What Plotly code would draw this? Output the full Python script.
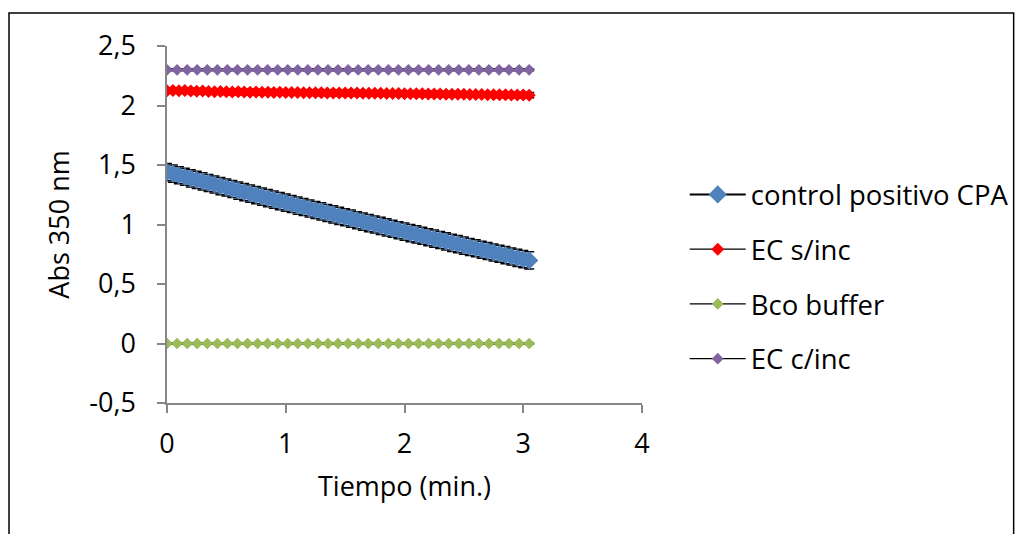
import plotly.graph_objects as go

# ---- data ----
time_fast = [0.00, 0.05, 0.10, 0.15, 0.20, 0.25, 0.30, 0.35, 0.40, 0.45,
             0.50, 0.55, 0.60, 0.65, 0.70, 0.75, 0.80, 0.85, 0.90, 0.95,
             1.00, 1.05, 1.10, 1.15, 1.20, 1.25, 1.30, 1.35, 1.40, 1.45,
             1.50, 1.55, 1.60, 1.65, 1.70, 1.75, 1.80, 1.85, 1.90, 1.95,
             2.00, 2.05, 2.10, 2.15, 2.20, 2.25, 2.30, 2.35, 2.40, 2.45,
             2.50, 2.55, 2.60, 2.65, 2.70, 2.75, 2.80, 2.85, 2.90, 2.95,
             3.00, 3.05]

cpa = [1.440, 1.427, 1.414, 1.401, 1.388, 1.375, 1.362, 1.349, 1.336, 1.323,
       1.311, 1.298, 1.285, 1.272, 1.260, 1.247, 1.234, 1.222, 1.209, 1.197,
       1.184, 1.172, 1.159, 1.147, 1.134, 1.122, 1.110, 1.097, 1.085, 1.073,
       1.061, 1.049, 1.036, 1.024, 1.012, 1.000, 0.988, 0.976, 0.964, 0.952,
       0.940, 0.928, 0.917, 0.905, 0.893, 0.881, 0.870, 0.858, 0.846, 0.835,
       0.823, 0.811, 0.800, 0.788, 0.777, 0.765, 0.754, 0.743, 0.731, 0.720,
       0.709, 0.698]
cpa_err = [0.072] * 62

ec_sinc = [2.125, 2.127, 2.124, 2.126, 2.122, 2.120, 2.121, 2.118, 2.116, 2.117,
           2.115, 2.114, 2.115, 2.113, 2.112, 2.113, 2.111, 2.112, 2.110, 2.111,
           2.110, 2.109, 2.110, 2.108, 2.108, 2.107, 2.107, 2.106, 2.106, 2.105,
           2.105, 2.104, 2.104, 2.103, 2.103, 2.102, 2.102, 2.101, 2.100, 2.100,
           2.099, 2.099, 2.098, 2.098, 2.097, 2.097, 2.096, 2.095, 2.095, 2.094,
           2.094, 2.093, 2.093, 2.092, 2.091, 2.091, 2.090, 2.090, 2.089, 2.088,
           2.088, 2.087]
ec_sinc_err = [0.022] * 62

time_slow = [0.000, 0.085, 0.170, 0.254, 0.339, 0.424, 0.508, 0.593, 0.678, 0.763,
             0.847, 0.932, 1.017, 1.101, 1.186, 1.271, 1.356, 1.440, 1.525, 1.610,
             1.694, 1.779, 1.864, 1.949, 2.033, 2.118, 2.203, 2.287, 2.372, 2.457,
             2.542, 2.626, 2.711, 2.796, 2.880, 2.965, 3.050]

bco_buffer = [0.000, 0.000, 0.000, 0.000, 0.000, 0.000, 0.000, 0.000, 0.000, 0.000,
              0.000, 0.000, 0.000, 0.000, 0.000, 0.000, 0.000, 0.000, 0.000, 0.000,
              0.000, 0.000, 0.000, 0.000, 0.000, 0.000, 0.000, 0.000, 0.000, 0.000,
              0.000, 0.000, 0.000, 0.000, 0.000, 0.000, 0.000]
bco_err = [0.006] * 37

ec_cinc = [2.300, 2.300, 2.300, 2.300, 2.300, 2.300, 2.300, 2.300, 2.300, 2.300,
           2.300, 2.300, 2.300, 2.300, 2.300, 2.300, 2.300, 2.300, 2.300, 2.300,
           2.300, 2.300, 2.300, 2.300, 2.300, 2.300, 2.300, 2.300, 2.300, 2.300,
           2.300, 2.300, 2.300, 2.300, 2.300, 2.300, 2.300]
ec_cinc_err = [0.008] * 37

y_ticks = [-0.5, 0, 0.5, 1, 1.5, 2, 2.5]
y_tick_text = ["-0,5", "0", "0,5", "1", "1,5", "2", "2,5"]
x_ticks = [0, 1, 2, 3, 4]

names = ["control positivo CPA", "EC s/inc", "Bco buffer", "EC c/inc"]
colors = ["#4F81BD", "#FF0000", "#9BBB59", "#8064A2"]

FONT = "'Open Sans', sans-serif"

fig = go.Figure()

def add(x, y, err, name, color, size, lw, group):
    fig.add_trace(go.Scatter(
        x=x, y=y, name=name, mode="lines+markers", legendgroup=group,
        line=dict(color="black", width=lw),
        marker=dict(symbol="diamond", size=size, color=color, line=dict(width=0)),
        error_y=dict(type="data", array=err, visible=True, color="black",
                     thickness=1.5, width=5),
    ))

add(time_fast, cpa, cpa_err, names[0], colors[0], 14, 2, "a")
add(time_fast, ec_sinc, ec_sinc_err, names[1], colors[1], 10, 1.2, "b")
add(time_slow, bco_buffer, bco_err, names[2], colors[2], 9, 1.2, "c")
add(time_slow, ec_cinc, ec_cinc_err, names[3], colors[3], 9, 1.2, "d")

axis_common = dict(
    showgrid=False, zeroline=False, showline=True, linecolor="#868686",
    linewidth=1.5, ticks="outside", ticklen=8, tickcolor="#868686", tickwidth=1.5,
    tickfont=dict(size=27, color="black", family=FONT),
)

# page has an 8px body margin; compensate so the figure lands where the reference is
OFF = 8
L, T = 167 - OFF, 46 - OFF
W, H = 1026 - OFF, 534 - OFF
PW, PH = 478, 357

fig.update_layout(
    width=W, height=H,
    margin=dict(l=L, r=W - L - PW, t=T, b=H - T - PH),
    paper_bgcolor="white", plot_bgcolor="white",
    font=dict(family=FONT, color="black"),
    xaxis=dict(range=[0, 4], tickvals=x_ticks, ticklabelstandoff=8,
               title=dict(text="Tiempo (min.)", font=dict(size=27, family=FONT), standoff=17),
               **axis_common),
    yaxis=dict(range=[-0.5, 2.5], tickvals=y_ticks, ticktext=y_tick_text,
               ticklabelstandoff=16,
               title=dict(text="Abs 350 nm", font=dict(size=27, family=FONT), standoff=12),
               **axis_common),
    legend=dict(x=(688 - OFF - L) / PW, y=(403 - 170) / PH, xanchor="left", yanchor="top",
                font=dict(size=27.5, family=FONT), tracegroupgap=16, itemwidth=56,
                bgcolor="rgba(0,0,0,0)"),
    shapes=[dict(type="rect", xref="paper", yref="paper",
                 x0=(7 - OFF - L + 1) / PW, x1=(1019 - OFF - L) / PW,
                 y0=(403 - 560) / PH, y1=(403 - 13) / PH,
                 line=dict(color="black", width=1.5), layer="below")],
)

fig.write_html("out.html")
